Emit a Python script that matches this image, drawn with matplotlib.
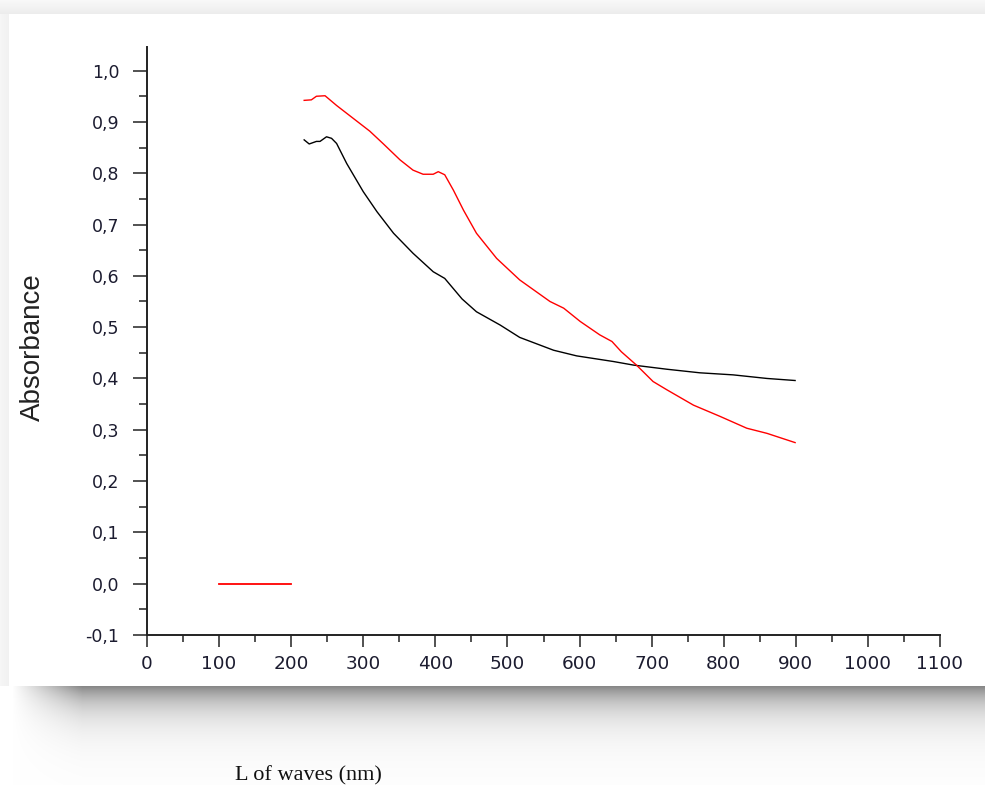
import numpy as np
import matplotlib
matplotlib.use("Agg")
import matplotlib.pyplot as plt
from matplotlib.ticker import MultipleLocator, FuncFormatter

# ---- data ----
black_x = [218, 225, 235, 240, 249, 256, 263, 277, 300, 319, 342, 369, 397, 413, 437,
           457, 490, 517, 564, 596, 647, 675, 721, 767, 813, 860, 899]
black_y = [0.865, 0.857, 0.862, 0.862, 0.871, 0.868, 0.858, 0.819, 0.764, 0.725, 0.683,
           0.644, 0.608, 0.595, 0.555, 0.530, 0.504, 0.480, 0.455, 0.444, 0.433, 0.426,
           0.418, 0.411, 0.407, 0.400, 0.396]

red_x = [218, 228, 235, 247, 263, 286, 309, 328, 351, 369, 383, 397, 404, 413, 425,
         439, 457, 485, 517, 559, 578, 601, 628, 645, 658, 679, 702, 721, 758, 795,
         832, 860, 899]
red_y = [0.942, 0.943, 0.950, 0.951, 0.932, 0.907, 0.882, 0.857, 0.826, 0.806, 0.798,
         0.798, 0.803, 0.797, 0.767, 0.728, 0.683, 0.634, 0.592, 0.550, 0.537, 0.511,
         0.485, 0.472, 0.452, 0.426, 0.394, 0.378, 0.348, 0.326, 0.303, 0.293, 0.275]

legend_x = [100, 200]
legend_y = [0.0, 0.0]

x_label = "L of waves (nm)"
y_label = "Absorbance"

W, H = 985, 785
fig = plt.figure(figsize=(W / 100, H / 100), dpi=100)

# ---- background panel with shadow (decoration) ----
bg = np.ones((H, W, 3))
yy = np.arange(H)[:, None] * np.ones((1, W))
xx = np.ones((H, 1)) * np.arange(W)[None, :]
top = yy < 14
bg[top] = (0.975 - 0.05 * (yy[top] / 14))[:, None]
left = (xx < 9) & (yy >= 14) & (yy < 686)
bg[left] = (0.965 - 0.02 * (xx[left] / 9))[:, None]
sh = yy >= 686
d = (yy - 686)
shade = 0.53 + 0.47 * (1 - np.exp(-d / 22.0))
fade_left = np.clip((xx - 12) / 70.0, 0, 1)
val = 1 - (1 - shade) * fade_left
bg[sh] = val[sh][:, None]
bgax = fig.add_axes([0, 0, 1, 1])
bgax.imshow(bg, aspect="auto", interpolation="bilinear")
bgax.axis("off")

# ---- main axes ----
ax = fig.add_axes([147 / W, 1 - 635 / H, (940 - 147) / W, (635 - 47) / H])
ax.patch.set_alpha(0)
ax.plot(black_x, black_y, color="black", lw=1.0)
ax.plot(red_x, red_y, color="red", lw=1.0)
ax.plot(legend_x, legend_y, color="red", lw=1.3)

ax.set_xlim(0, 1100)
ax.set_ylim(-0.1, 1.046)
for s in ["top", "right"]:
    ax.spines[s].set_visible(False)
for s in ["left", "bottom"]:
    ax.spines[s].set_linewidth(1.4)
    ax.spines[s].set_color("#222222")

ax.xaxis.set_major_locator(MultipleLocator(100))
ax.xaxis.set_minor_locator(MultipleLocator(50))
ax.yaxis.set_major_locator(MultipleLocator(0.1))
ax.yaxis.set_minor_locator(MultipleLocator(0.05))
ax.yaxis.set_major_formatter(FuncFormatter(lambda v, p: f"{v:.1f}".replace(".", ",").replace("-0,0", "0,0")))
ax.xaxis.set_major_formatter(FuncFormatter(lambda v, p: f"{int(round(v))}"))

tick_color = "#1c1c30"
ax.tick_params(axis="y", which="major", direction="out", length=10, width=1.1,
               pad=10, labelsize=12.5, labelcolor=tick_color, color="#222222")
ax.tick_params(axis="y", which="minor", direction="out", length=6, width=1.1, color="#222222")
ax.tick_params(axis="x", which="major", direction="out", length=8.6, width=1.1,
               pad=6, labelsize=13.3, labelcolor=tick_color, color="#222222")
ax.tick_params(axis="x", which="minor", direction="out", length=5, width=1.1, color="#222222")
for lab in ax.get_xticklabels() + ax.get_yticklabels():
    lab.set_family("DejaVu Sans")

fig.text(33 / W, 1 - 347 / H, y_label, rotation=90, ha="center", va="center",
         fontsize=20, family="Liberation Sans", color="#222222")
fig.text(308 / W, 1 - 776 / H, x_label, ha="center", va="center",
         fontsize=16, family="Liberation Serif", color="#111111")

fig.savefig("out.png", dpi=100)
